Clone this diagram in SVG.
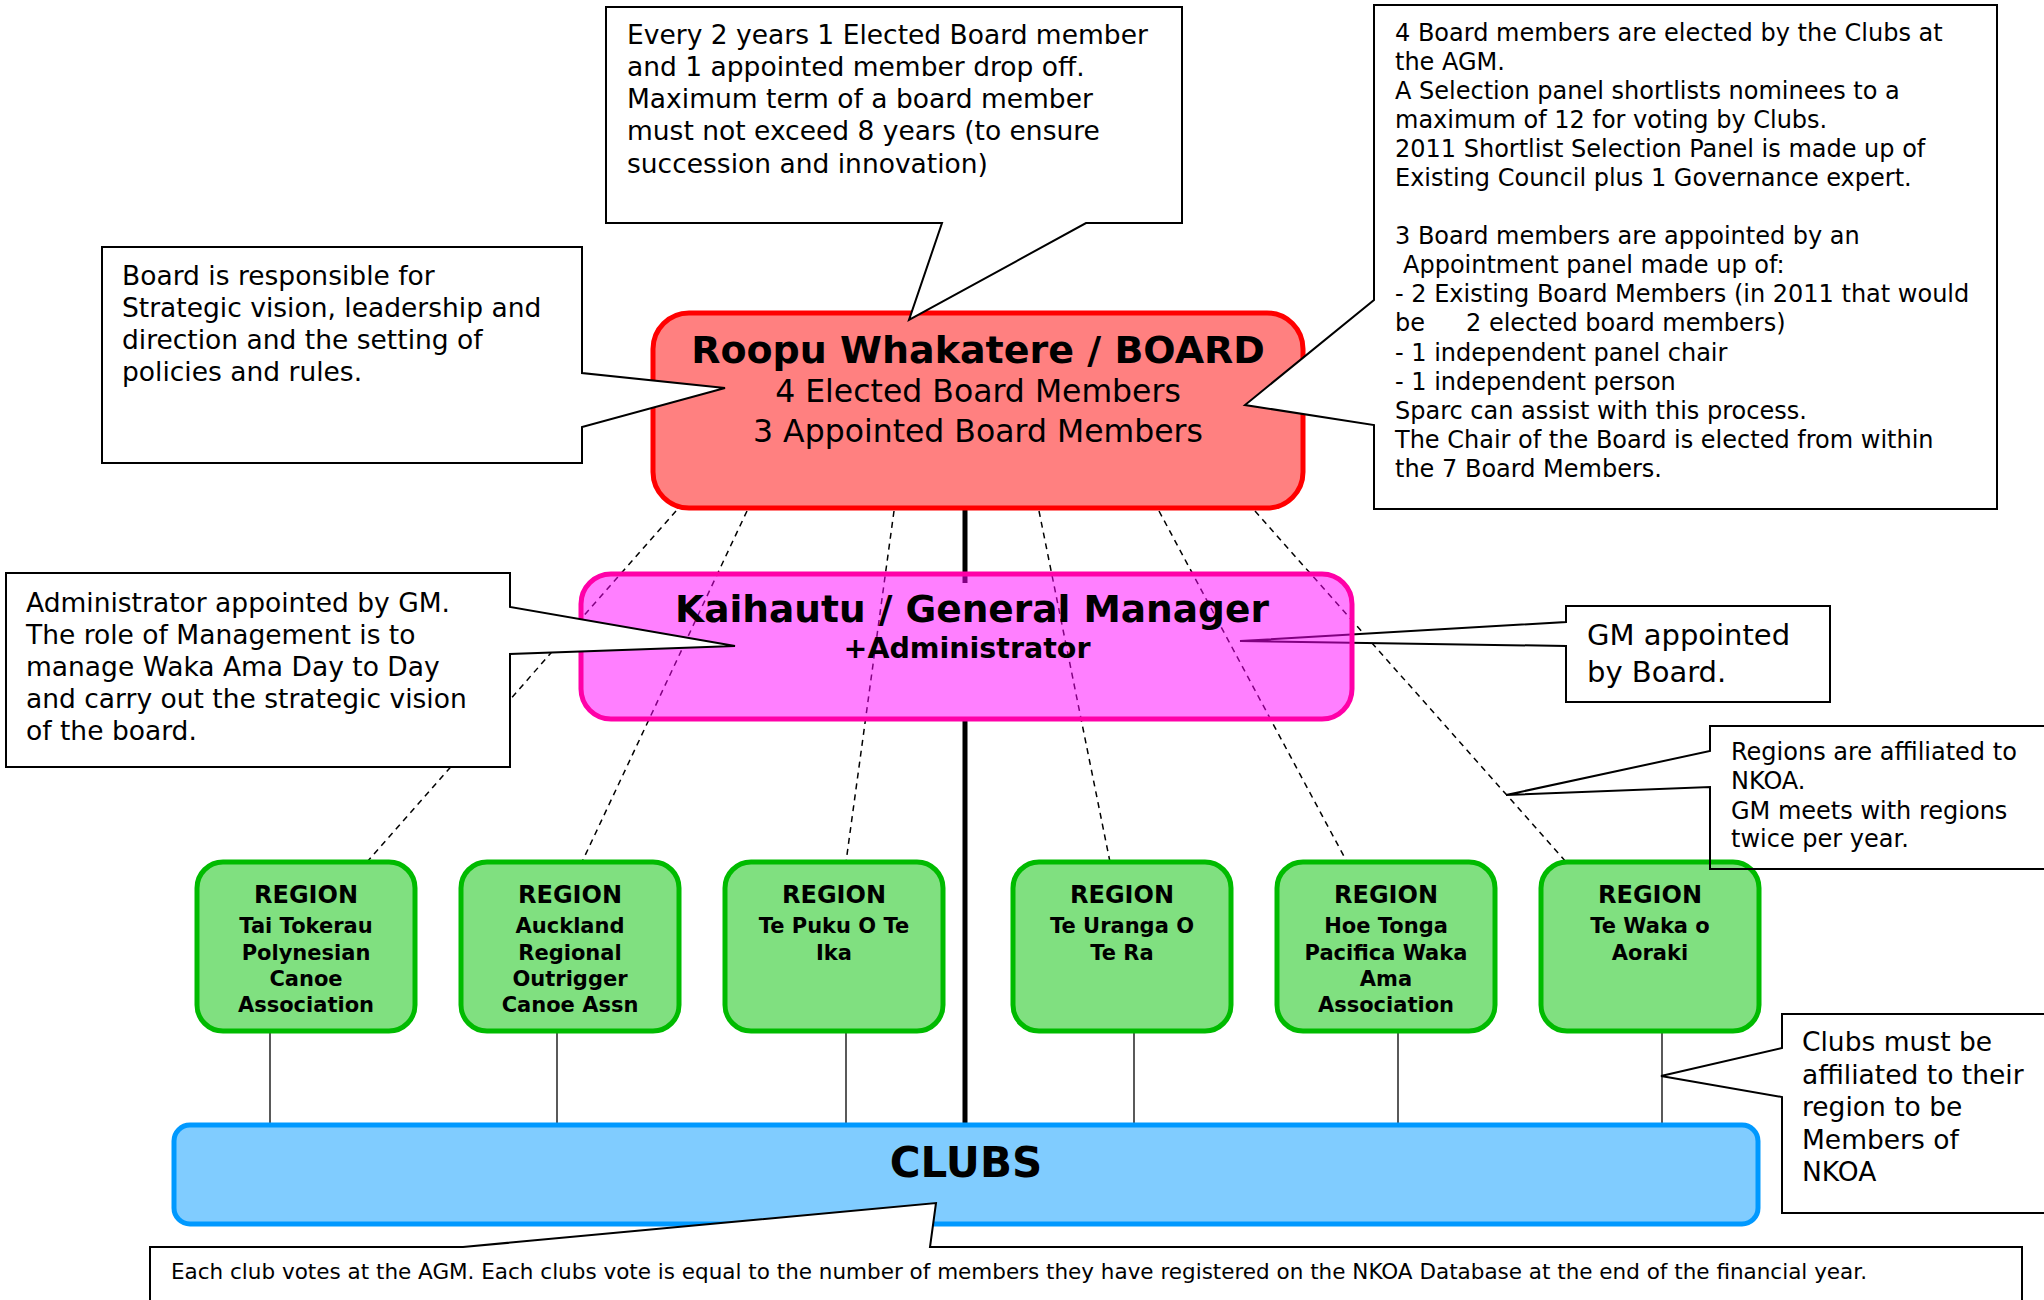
<svg xmlns="http://www.w3.org/2000/svg" width="2044" height="1300" viewBox="0 0 2044 1300">
<style>
text{font-family:"DejaVu Sans","Verdana",sans-serif;fill:#000}
.co{fill:#fff;stroke:#000;stroke-width:2;stroke-linejoin:miter}
.t26{font-size:26.5px}
.t24{font-size:24px}
.t29{font-size:29px}
.t20{font-size:21.5px}
.b{font-weight:bold}
.mid{text-anchor:middle}
.region rect{fill:#80E080;stroke:#00BB00;stroke-width:5}
.rt{font-size:24px;font-weight:bold;text-anchor:middle}
.rs{font-size:21px;font-weight:bold;text-anchor:middle}
.dash{stroke:#000;stroke-width:1.5;stroke-dasharray:6 5;fill:none}
.thin{stroke:#000;stroke-width:1.3;fill:none}
.thick{stroke:#000;stroke-width:5;fill:none}
</style>
<rect width="2044" height="1300" fill="#fff"/>

<g id="connectors">
<line class="thick" x1="965" y1="509" x2="965" y2="583"/>
<line class="thick" x1="965" y1="718" x2="965" y2="1124"/>
<line class="dash" x1="676" y1="511" x2="367" y2="862"/>
<line class="dash" x1="747" y1="511" x2="582" y2="862"/>
<line class="dash" x1="894" y1="511" x2="846" y2="862"/>
<line class="dash" x1="1039" y1="511" x2="1110" y2="862"/>
<line class="dash" x1="1159" y1="511" x2="1347" y2="862"/>
<line class="dash" x1="1255" y1="511" x2="1567" y2="863"/>
<line class="thin" x1="270" y1="1031" x2="270" y2="1125"/>
<line class="thin" x1="557" y1="1031" x2="557" y2="1125"/>
<line class="thin" x1="846" y1="1031" x2="846" y2="1125"/>
<line class="thin" x1="1134" y1="1031" x2="1134" y2="1125"/>
<line class="thin" x1="1398" y1="1031" x2="1398" y2="1125"/>
<line class="thin" x1="1662" y1="1031" x2="1662" y2="1125"/>
</g>

<g id="board">
<rect x="653" y="313" width="650" height="195" rx="36" fill="#FF8080" stroke="#FF0000" stroke-width="5"/>
<text class="b mid" x="978" y="363" font-size="38">Roopu Whakatere / BOARD</text>
<text class="mid" x="978" y="402" font-size="31.5">4 Elected Board Members</text>
<text class="mid" x="978" y="442" font-size="31.5">3 Appointed Board Members</text>
</g>

<g id="note-gm-appointed">
<polygon class="co" points="1566,606 1830,606 1830,702 1566,702 1566,646 1240,641 1566,622"/>
<text class="t29" x="1587" y="645">GM appointed</text>
<text class="t29" x="1587" y="682">by Board.</text>
</g>

<g id="gm">
<rect x="581" y="574" width="771" height="145" rx="30" fill="#FF00FF" fill-opacity="0.5" stroke="#FF00A8" stroke-width="5"/>
<text class="b mid" x="972" y="622" font-size="37.5">Kaihautu / General Manager</text>
<text class="b mid" x="967" y="658" font-size="28.5">+Administrator</text>
</g>

<g id="region-1" class="region">
<rect x="197" y="862" width="218" height="169" rx="26"/>
<text class="rt" x="306" y="903">REGION</text>
<text class="rs" x="306" y="933">Tai Tokerau</text>
<text class="rs" x="306" y="959.5">Polynesian</text>
<text class="rs" x="306" y="986">Canoe</text>
<text class="rs" x="306" y="1012">Association</text>
</g>
<g id="region-2" class="region">
<rect x="461" y="862" width="218" height="169" rx="26"/>
<text class="rt" x="570" y="903">REGION</text>
<text class="rs" x="570" y="933">Auckland</text>
<text class="rs" x="570" y="959.5">Regional</text>
<text class="rs" x="570" y="986">Outrigger</text>
<text class="rs" x="570" y="1012">Canoe Assn</text>
</g>
<g id="region-3" class="region">
<rect x="725" y="862" width="218" height="169" rx="26"/>
<text class="rt" x="834" y="903">REGION</text>
<text class="rs" x="834" y="933">Te Puku O Te</text>
<text class="rs" x="834" y="959.5">Ika</text>
</g>
<g id="region-4" class="region">
<rect x="1013" y="862" width="218" height="169" rx="26"/>
<text class="rt" x="1122" y="903">REGION</text>
<text class="rs" x="1122" y="933">Te Uranga O</text>
<text class="rs" x="1122" y="959.5">Te Ra</text>
</g>
<g id="region-5" class="region">
<rect x="1277" y="862" width="218" height="169" rx="26"/>
<text class="rt" x="1386" y="903">REGION</text>
<text class="rs" x="1386" y="933">Hoe Tonga</text>
<text class="rs" x="1386" y="959.5">Pacifica Waka</text>
<text class="rs" x="1386" y="986">Ama</text>
<text class="rs" x="1386" y="1012">Association</text>
</g>
<g id="region-6" class="region">
<rect x="1541" y="862" width="218" height="169" rx="26"/>
<text class="rt" x="1650" y="903">REGION</text>
<text class="rs" x="1650" y="933">Te Waka o</text>
<text class="rs" x="1650" y="959.5">Aoraki</text>
</g>

<g id="clubs">
<rect x="174" y="1125" width="1584" height="99" rx="16" fill="#80CCFF" stroke="#0099FF" stroke-width="5"/>
<text class="b mid" x="966" y="1177" font-size="42">CLUBS</text>
</g>

<g id="note-term">
<polygon class="co" points="606,7 1182,7 1182,223 1086,223 909,320 942,223 606,223"/>
<text class="t26" x="627" y="44">Every 2 years 1 Elected Board member</text>
<text class="t26" x="627" y="76">and 1 appointed member drop off.</text>
<text class="t26" x="627" y="108">Maximum term of a board member</text>
<text class="t26" x="627" y="140">must not exceed 8 years (to ensure</text>
<text class="t26" x="627" y="172.5">succession and innovation)</text>
</g>

<g id="note-board-role">
<polygon class="co" points="102,247 582,247 582,373 725,388 582,427 582,463 102,463"/>
<text class="t26" x="122" y="285">Board is responsible for</text>
<text class="t26" x="122" y="317">Strategic vision, leadership and</text>
<text class="t26" x="122" y="349">direction and the setting of</text>
<text class="t26" x="122" y="381">policies and rules.</text>
</g>

<g id="note-election">
<polygon class="co" points="1374,5 1997,5 1997,509 1374,509 1374,425 1245,405 1374,300"/>
<text class="t24" x="1395" y="40.7">4 Board members are elected by the Clubs at</text>
<text class="t24" x="1395" y="69.8">the AGM.</text>
<text class="t24" x="1395" y="98.8">A Selection panel shortlists nominees to a</text>
<text class="t24" x="1395" y="127.9">maximum of 12 for voting by Clubs.</text>
<text class="t24" x="1395" y="157">2011 Shortlist Selection Panel is made up of</text>
<text class="t24" x="1395" y="186">Existing Council plus 1 Governance expert.</text>
<text class="t24" x="1395" y="244.2">3 Board members are appointed by an</text>
<text class="t24" x="1403" y="273.3">Appointment panel made up of:</text>
<text class="t24" x="1395" y="302.3">- 2 Existing Board Members (in 2011 that would</text>
<text class="t24" x="1395" y="331.4">be<tspan x="1466">2 elected board members)</tspan></text>
<text class="t24" x="1395" y="360.5">- 1 independent panel chair</text>
<text class="t24" x="1395" y="389.5">- 1 independent person</text>
<text class="t24" x="1395" y="418.6">Sparc can assist with this process.</text>
<text class="t24" x="1395" y="447.7">The Chair of the Board is elected from within</text>
<text class="t24" x="1395" y="476.7">the 7 Board Members.</text>
</g>

<g id="note-admin">
<polygon class="co" points="6,573 510,573 510,607 735,646 510,654 510,767 6,767"/>
<text class="t26" x="26" y="612">Administrator appointed by GM.</text>
<text class="t26" x="26" y="644">The role of Management is to</text>
<text class="t26" x="26" y="676">manage Waka Ama Day to Day</text>
<text class="t26" x="26" y="708">and carry out the strategic vision</text>
<text class="t26" x="26" y="740">of the board.</text>
</g>

<g id="note-regions">
<polygon class="co" style="fill:none" points="1710,726 2050,726 2050,869 1710,869 1710,787 1506,795 1710,751"/>
<text class="t24" x="1731" y="760">Regions are affiliated to</text>
<text class="t24" x="1731" y="789">NKOA.</text>
<text class="t24" x="1731" y="819">GM meets with regions</text>
<text class="t24" x="1731" y="847">twice per year.</text>
</g>

<g id="note-clubs">
<polygon class="co" points="1782,1014 2050,1014 2050,1213 1782,1213 1782,1097 1661,1076 1782,1048"/>
<text class="t26" x="1802" y="1051">Clubs must be</text>
<text class="t26" x="1802" y="1083.5">affiliated to their</text>
<text class="t26" x="1802" y="1116">region to be</text>
<text class="t26" x="1802" y="1148.5">Members of</text>
<text class="t26" x="1802" y="1181">NKOA</text>
</g>

<g id="note-votes">
<polygon class="co" points="150,1247 463,1247 936,1203 930,1247 2022,1247 2022,1310 150,1310"/>
<text class="t20" x="171" y="1279">Each club votes at the AGM. Each clubs vote is equal to the number of members they have registered on the NKOA Database at the end of the financial year.</text>
</g>
</svg>
